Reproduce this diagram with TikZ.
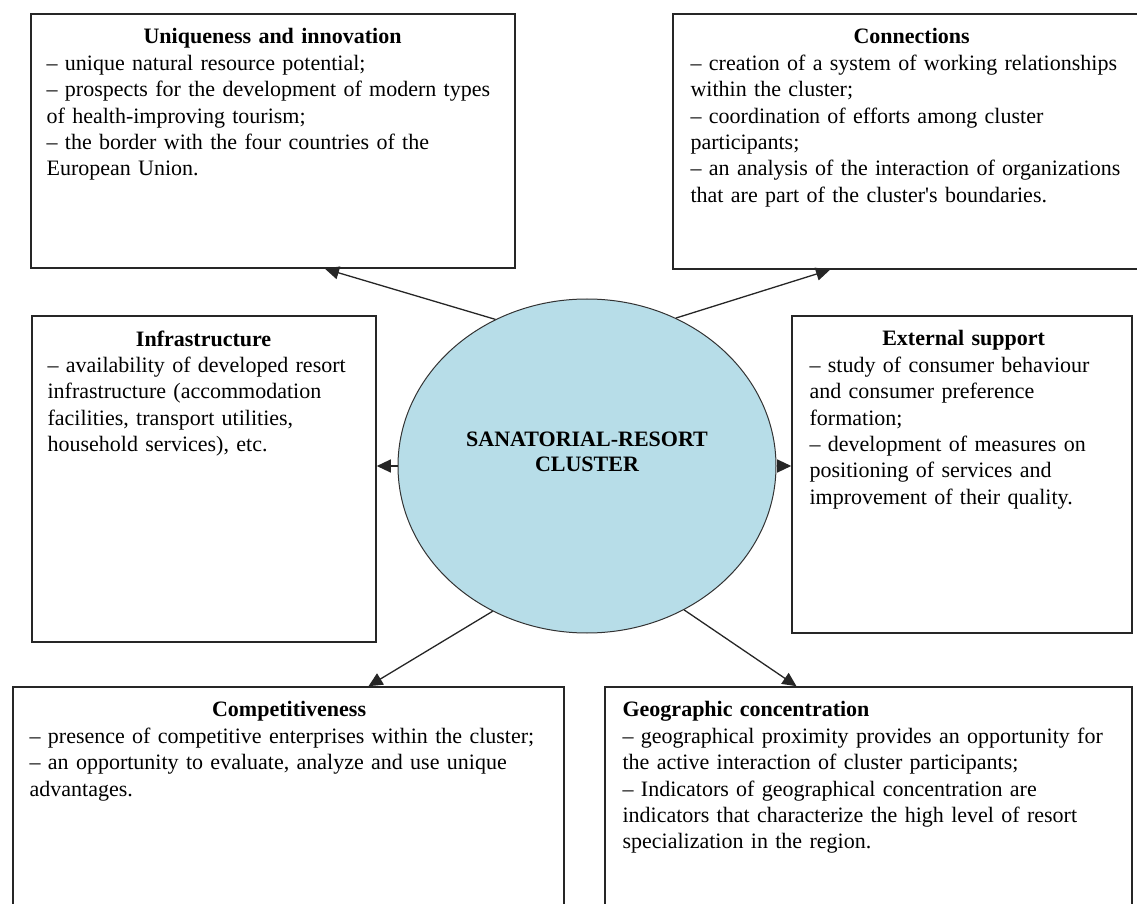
\documentclass[tikz,border=0pt]{standalone}
\usepackage{fontspec}
\setmainfont{Liberation Serif}
\usetikzlibrary{arrows.meta,positioning,shapes.geometric}
\definecolor{clusterblue}{RGB}{183,221,232}

\begin{document}
\begin{tikzpicture}[>={Triangle[length=7pt,width=6.5pt]},x=0.5pt,y=-0.5pt,
  box/.style={rectangle,draw=black!85,line width=0.8pt,inner sep=0pt},
  txt/.style={align=left,inner sep=0pt,font=\fontsize{11}{13.2}\selectfont},
  cluster/.style={ellipse,draw=black!80,line width=0.5pt,fill=clusterblue,inner sep=0pt,
    minimum width=189pt,minimum height=167pt}]

  \useasboundingbox (0,0) rectangle (1137,904);
  \clip (0,0) rectangle (1137,904);

  % boxes
  \node[box,minimum width=242pt,minimum height=127pt] (ui) at (273,141) {};
  \node[box,minimum width=237pt,minimum height=127.5pt] (conn) at (910,141.5) {};
  \node[box,minimum width=172pt,minimum height=163pt] (infra) at (204,479) {};
  \node[box,minimum width=170pt,minimum height=158.5pt] (ext) at (962,474.5) {};
  \node[box,minimum width=275.5pt,minimum height=126.5pt] (comp) at (288.5,813.5) {};
  \node[box,minimum width=263.5pt,minimum height=126.5pt] (geo) at (868.5,813.5) {};
  \node[cluster] (clu) at (587,466) {};

  % texts
  \node[txt,text width=226pt,below right=7.5pt and 8pt of ui.north west] (uitext)
    {{\centering\bfseries Uniqueness and innovation\par}
     – unique natural resource potential;\\
     – prospects for the development of modern types\\
     of health-improving tourism;\\
     – the border with the four countries of the\\
     European Union.};
  \node[txt,text width=221pt,below right=7.5pt and 9pt of conn.north west] (conntext)
    {{\centering\bfseries Connections\par}
     – creation of a system of working relationships\\
     within the cluster;\\
     – coordination of efforts among cluster\\
     participants;\\
     – an analysis of the interaction of organizations\\
     that are part of the cluster\textquotesingle s boundaries.};
  \node[txt,text width=156pt,below right=7.5pt and 8pt of infra.north west] (infratext)
    {{\centering\bfseries Infrastructure\par}
     – availability of developed resort\\
     infrastructure (accommodation\\
     facilities, transport utilities,\\
     household services), etc.};
  \node[txt,text width=154pt,below right=7.5pt and 9pt of ext.north west] (exttext)
    {{\centering\bfseries External support\par}
     – study of consumer behaviour\\
     and consumer preference\\
     formation;\\
     – development of measures on\\
     positioning of services and\\
     improvement of their quality.};
  \node[txt,text width=259.5pt,below right=7.5pt and 8.5pt of comp.north west] (comptext)
    {{\centering\bfseries Competitiveness\par}
     – presence of competitive enterprises within the cluster;\\
     – an opportunity to evaluate, analyze and use unique\\
     advantages.};
  \node[txt,text width=247.5pt,below right=7.5pt and 9pt of geo.north west] (geotext)
    {\textbf{Geographic concentration}\\
     – geographical proximity provides an opportunity for\\
     the active interaction of cluster participants;\\
     – Indicators of geographical concentration are\\
     indicators that characterize the high level of resort\\
     specialization in the region.};
  \node[txt,align=center,font=\fontsize{11}{12.5}\selectfont\bfseries] (clutext)
    at ([yshift=7pt]clu.center) {SANATORIAL-RESORT\\CLUSTER};

  \path[->,line width=0.65pt,black!85]
    (clu.122) edge ([xshift=26pt]ui.south)
    (clu.59) edge ([xshift=-40pt]conn.south)
    (clu.west) edge (clu.west -| infra.east)
    (clu.east) edge (clu.east -| ext.west)
    (clu.237) edge ([xshift=40pt]comp.north)
    (clu.304) edge ([xshift=-36pt]geo.north);

\end{tikzpicture}
\end{document}
